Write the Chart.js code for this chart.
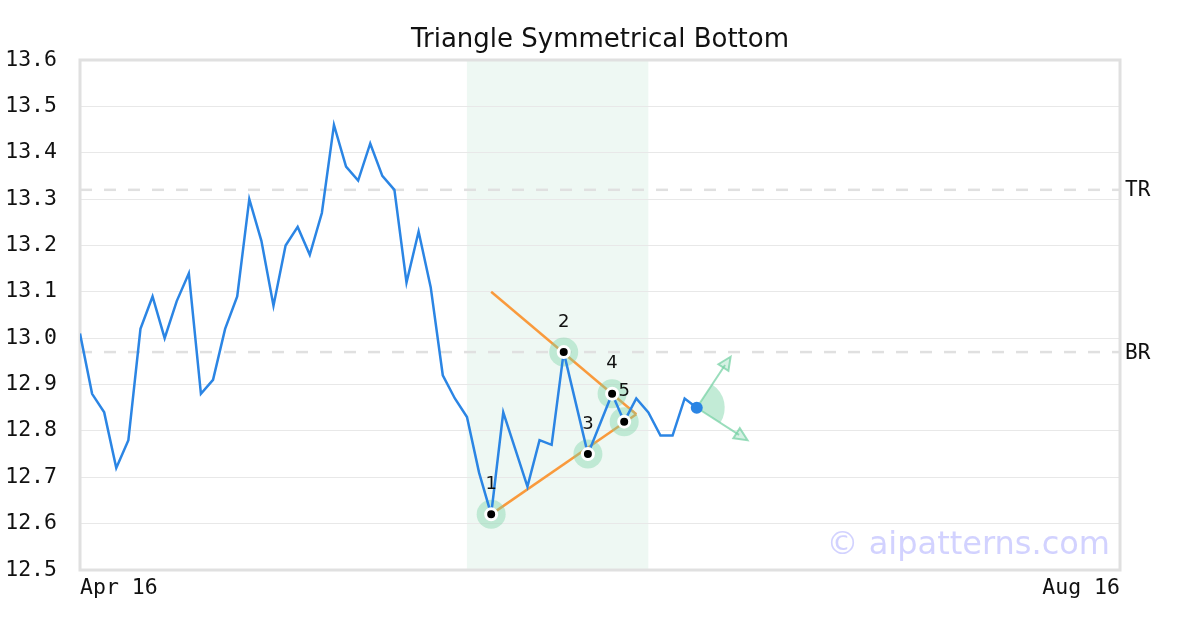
<!DOCTYPE html>
<html>
<head>
<meta charset="utf-8">
<script src="https://cdn.jsdelivr.net/npm/chart.js@4/dist/chart.umd.min.js"></script>
<style>
  html, body { margin: 0; padding: 0; background: #fff; }
  #wrap { width: 1200px; height: 630px; }
</style>
</head>
<body>
<div id="wrap"><canvas id="patternChart" width="1200" height="630"></canvas></div>
<script>
// price closes, one per trading day starting Apr 16
var prices = [13.01, 12.88, 12.84, 12.72, 12.78, 13.02, 13.09, 13.00, 13.08, 13.14,
              12.88, 12.91, 13.02, 13.09, 13.30, 13.21, 13.07, 13.20, 13.24, 13.18,
              13.27, 13.46, 13.37, 13.34, 13.42, 13.35, 13.32, 13.12, 13.23, 13.11,
              12.92, 12.87, 12.83, 12.71, 12.62, 12.84, 12.76, 12.68, 12.78, 12.77,
              12.97, 12.86, 12.75, 12.815, 12.88, 12.82, 12.87, 12.84, 12.79, 12.79,
              12.87, 12.85];
var xTickPos = [0, 86];
var xTickLabels = ['Apr 16', 'Aug 16'];

// pattern pivots
var pivotIdx = [34, 40, 42, 44, 45];
var pivotVal = [12.62, 12.97, 12.75, 12.88, 12.82];
var pivotLabels = ['1', '2', '3', '4', '5'];

// triangle trend lines
var upperLineX = [34, 46];
var upperLineY = [13.10, 12.836];
var lowerLineX = [34, 46];
var lowerLineY = [12.62, 12.836];

// pattern zone, resistance levels
var zoneX = [32, 47];
var levelNames = ['TR', 'BR'];
var levelVals = [13.32, 12.97];

// projection arrows from last close
var arrowEndX = [53.8, 55.2];
var arrowEndY = [12.96, 12.78];

var title = 'Triangle Symmetrical Bottom';
var blue = '#2b85e4';
var orange = '#f99a3c';
var green = 'rgba(120,210,165,0.4)';

function pts(xs, ys) {
    return xs.map(function (x, i) { return { x: x, y: ys[i] }; });
}

var lastIdx = prices.length - 1;

var zonePlugin = {
    id: 'zone',
    beforeDraw: function (chart) {
        var c = chart.ctx, a = chart.chartArea, xs = chart.scales.x;
        c.save();
        c.fillStyle = 'rgba(200,232,215,0.3)';
        var x0 = xs.getPixelForValue(zoneX[0]), x1 = xs.getPixelForValue(zoneX[1]);
        c.fillRect(x0, a.top, x1 - x0, a.bottom - a.top);
        // title, centred on the whole canvas
        c.fillStyle = '#111';
        c.font = '26px "DejaVu Sans"';
        c.textAlign = 'center';
        c.textBaseline = 'middle';
        c.fillText(title, chart.width / 2, 40);
        c.restore();
    },
    beforeDatasetsDraw: function (chart) {
        var c = chart.ctx, a = chart.chartArea;
        c.save();
        c.strokeStyle = '#e0e0e0';
        c.lineWidth = 3;
        c.strokeRect(a.left, a.top, a.right - a.left, a.bottom - a.top);
        // watermark
        c.fillStyle = 'rgba(205,205,255,0.9)';
        c.font = '32px "DejaVu Sans"';
        c.textAlign = 'right';
        c.textBaseline = 'alphabetic';
        c.fillText('\u00a9 aipatterns.com', a.right - 10, a.bottom - 16);
        c.restore();
    }
};

var notesPlugin = {
    id: 'notes',
    afterDatasetsDraw: function (chart) {
        var c = chart.ctx, a = chart.chartArea, xs = chart.scales.x, ys = chart.scales.y;
        c.save();
        // level names on the right
        c.fillStyle = '#111';
        c.font = '21px "DejaVu Sans Mono"';
        c.textAlign = 'left';
        c.textBaseline = 'middle';
        levelNames.forEach(function (n, i) {
            c.fillText(n, a.right + 5, ys.getPixelForValue(levelVals[i]) + 1);
        });
        // pivot numbers
        c.font = '18px "DejaVu Sans"';
        c.textAlign = 'center';
        pivotLabels.forEach(function (t, i) {
            c.fillText(t, xs.getPixelForValue(pivotIdx[i]), ys.getPixelForValue(pivotVal[i]) - 30);
        });

        // projection arrows + wedge
        var cx = xs.getPixelForValue(lastIdx), cy = ys.getPixelForValue(prices[lastIdx]);
        var angs = [];
        arrowEndX.forEach(function (ex, i) {
            var tx = xs.getPixelForValue(ex), ty = ys.getPixelForValue(arrowEndY[i]);
            var ang = Math.atan2(ty - cy, tx - cx);
            angs.push(ang);
            c.strokeStyle = 'rgba(120,210,165,0.75)';
            c.lineWidth = 2;
            c.beginPath();
            c.moveTo(cx, cy);
            c.lineTo(tx - Math.cos(ang) * 10, ty - Math.sin(ang) * 10);
            c.stroke();
            // open head
            var hl = 13, hw = 6;
            var bx = tx - Math.cos(ang) * hl, by = ty - Math.sin(ang) * hl;
            c.beginPath();
            c.moveTo(tx, ty);
            c.lineTo(bx + Math.sin(ang) * hw, by - Math.cos(ang) * hw);
            c.lineTo(bx - Math.sin(ang) * hw, by + Math.cos(ang) * hw);
            c.closePath();
            c.fillStyle = 'rgba(120,210,165,0.3)';
            c.fill();
            c.stroke();
        });
        c.fillStyle = 'rgba(120,210,165,0.45)';
        c.beginPath();
        c.moveTo(cx, cy);
        c.arc(cx, cy, 28, angs[0], angs[1]);
        c.closePath();
        c.fill();
        // last close dot on top
        c.fillStyle = blue;
        c.beginPath();
        c.arc(cx, cy, 6, 0, Math.PI * 2);
        c.fill();
        c.restore();
    }
};

var ctx = document.getElementById('patternChart');
var myChart = new Chart(ctx, {
    type: 'line',
    data: {
        datasets: [{
            label: 'pivots',
            data: pts(pivotIdx, pivotVal),
            showLine: false,
            pointRadius: 5.5,
            pointBackgroundColor: '#000',
            pointBorderColor: '#fff',
            pointBorderWidth: 3,
            order: 0
        }, {
            label: 'price',
            data: prices.map(function (v, i) { return { x: i, y: v }; }),
            borderColor: blue,
            borderWidth: 2.5,
            pointRadius: 0,
            tension: 0,
            order: 1
        }, {
            label: 'halo',
            data: pts(pivotIdx, pivotVal),
            showLine: false,
            pointRadius: 14.5,
            pointBackgroundColor: green,
            pointBorderWidth: 0,
            order: 2
        }, {
            label: 'upper',
            data: pts(upperLineX, upperLineY),
            borderColor: orange,
            borderWidth: 2.5,
            pointRadius: 0,
            order: 3
        }, {
            label: 'lower',
            data: pts(lowerLineX, lowerLineY),
            borderColor: orange,
            borderWidth: 2.5,
            pointRadius: 0,
            order: 3
        }, {
            label: 'TR',
            data: pts(xTickPos, [levelVals[0], levelVals[0]]),
            borderColor: '#e0e0e0',
            borderWidth: 2.5,
            borderDash: [12, 12],
            pointRadius: 0,
            order: 4
        }, {
            label: 'BR',
            data: pts(xTickPos, [levelVals[1], levelVals[1]]),
            borderColor: '#e0e0e0',
            borderWidth: 2.5,
            borderDash: [12, 12],
            pointRadius: 0,
            order: 4
        }]
    },
    options: {
        responsive: false,
        animation: false,
        layout: { padding: { left: 5, right: 80, top: 60, bottom: 20 } },
        plugins: {
            legend: { display: false },
            tooltip: { enabled: false },
            title: { display: false }
        },
        scales: {
            x: {
                type: 'linear',
                min: xTickPos[0],
                max: xTickPos[1],
                afterBuildTicks: function (s) {
                    s.ticks = xTickPos.map(function (v) { return { value: v }; });
                },
                afterFit: function (s) { s.height = 40; },
                grid: { display: false, drawTicks: false },
                border: { display: false },
                ticks: {
                    autoSkip: false,
                    maxRotation: 0,
                    align: 'inner',
                    padding: 6,
                    color: '#111',
                    font: { family: 'DejaVu Sans Mono', size: 21.5 },
                    callback: function (v) { return xTickLabels[xTickPos.indexOf(v)]; }
                }
            },
            y: {
                min: 12.5,
                max: 13.6,
                afterFit: function (s) { s.width = 75; },
                grid: { color: '#e8e8e8', lineWidth: 1, drawTicks: false },
                border: { display: false },
                ticks: {
                    stepSize: 0.1,
                    padding: 23,
                    color: '#111',
                    font: { family: 'DejaVu Sans Mono', size: 21.5 },
                    callback: function (v) { return v.toFixed(1); }
                }
            }
        }
    },
    plugins: [zonePlugin, notesPlugin]
});
</script>
</body>
</html>
